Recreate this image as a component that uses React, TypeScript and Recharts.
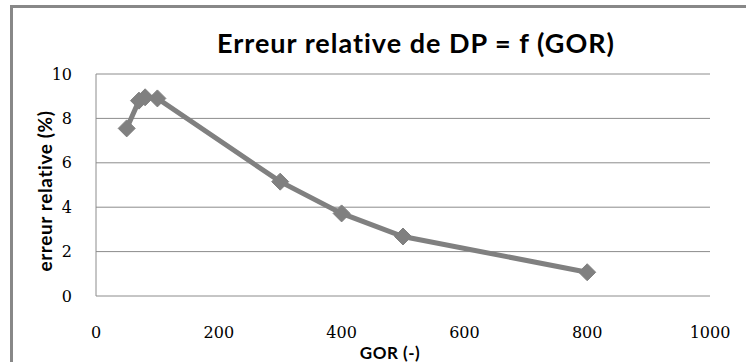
import React from "react";
import { LineChart, Line, XAxis, YAxis, CartesianGrid } from "recharts";

const gor = [50, 70, 80, 100, 300, 400, 500, 800];
const erreur = [7.55, 8.8, 8.95, 8.9, 5.15, 3.72, 2.68, 1.07];
const xTicks = [0, 200, 400, 600, 800, 1000];
const yTicks = [0, 2, 4, 6, 8, 10];

const data = gor.map((g, i) => ({ gor: g, erreur: erreur[i] }));

const GRAY = "#808080";
const GRID = "#8c8c8c";

const Diamond = (props: any) => {
  const { cx, cy } = props;
  if (cx == null || cy == null) return null;
  const r = 8.5;
  return (
    <path
      d={`M${cx},${cy - r} L${cx + r},${cy} L${cx},${cy + r} L${cx - r},${cy} Z`}
      fill={GRAY}
      stroke={GRAY}
      strokeWidth={1}
    />
  );
};

export default function App() {
  return (
    <div style={{ position: "absolute", left: 0, top: 0, width: 746, height: 362, overflow: "hidden", background: "#fff" }}>
      <div
        style={{
          position: "absolute",
          left: 10,
          top: 5,
          width: 800,
          height: 400,
          borderLeft: "3px solid #888",
          borderTop: "3px solid #888",
        }}
      />
      <div
        style={{
          position: "absolute",
          left: 0,
          width: 746,
          top: 28,
          textAlign: "center",
          fontFamily: "Lato, sans-serif",
          fontWeight: 700,
          fontSize: 27,
          letterSpacing: 1,
          lineHeight: "30px",
          color: "#000",
          paddingLeft: 86,
          boxSizing: "border-box",
          whiteSpace: "nowrap",
        }}
      >
        Erreur relative de DP = f (GOR)
      </div>
      <div style={{ position: "absolute", left: 0, top: 0 }}>
        <LineChart width={746} height={362} data={data} margin={{ top: 74, right: 36, bottom: 0, left: 36 }}>
          <CartesianGrid horizontal={true} vertical={false} stroke={GRID} strokeWidth={1} />
          <XAxis
            dataKey="gor"
            type="number"
            domain={[0, 1000]}
            ticks={xTicks}
            height={66}
            axisLine={false}
            tickLine={false}
            tickSize={0}
            tickMargin={31}
            interval={0}
            tick={{ fill: "#000", fontSize: 16, fontFamily: "DejaVu Serif, serif" }}
            label={{
              content: (p: any) => {
                const vb = p.viewBox || {};
                return (
                  <text
                    x={vb.x + vb.width / 2 - 13}
                    y={vb.y + vb.height - 3}
                    textAnchor="middle"
                    fontFamily="Lato, sans-serif"
                    fontWeight={700}
                    fontSize={17}
                    letterSpacing={0.5}
                    fill="#000"
                  >
                    GOR (-)
                  </text>
                );
              },
            }}
          />
          <YAxis
            type="number"
            domain={[0, 10]}
            ticks={yTicks}
            width={60}
            axisLine={{ stroke: GRID, strokeWidth: 1 }}
            tickLine={false}
            tickSize={0}
            tickMargin={24}
            interval={0}
            tick={{ fill: "#000", fontSize: 16, fontFamily: "DejaVu Serif, serif" }}
            label={{
              content: (p: any) => {
                const vb = p.viewBox || {};
                const cx = vb.x + 8;
                const cy = vb.y + vb.height / 2 + 6;
                return (
                  <text
                    x={cx}
                    y={cy}
                    transform={`rotate(-90 ${cx} ${cy})`}
                    textAnchor="middle"
                    dominantBaseline="central"
                    fontFamily="Lato, sans-serif"
                    fontWeight={700}
                    fontSize={19}
                    letterSpacing={0.6}
                    fill="#000"
                  >
                    erreur relative (%)
                  </text>
                );
              },
            }}
          />
          <Line
            type="linear"
            dataKey="erreur"
            stroke={GRAY}
            strokeWidth={5}
            dot={<Diamond />}
            activeDot={false}
            isAnimationActive={false}
          />
        </LineChart>
      </div>
    </div>
  );
}
